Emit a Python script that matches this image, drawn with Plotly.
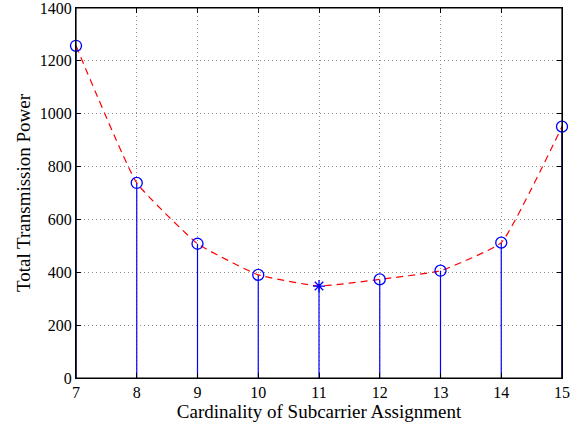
import plotly.graph_objects as go

x_vals = [7, 8, 9, 10, 11, 12, 13, 14, 15]
power = [1257, 738, 508, 390, 348, 373, 406, 512, 951]
y_ticks = [0, 200, 400, 600, 800, 1000, 1200, 1400]
min_index = 4

fig = go.Figure()

# stems
sx, sy = [], []
for xv, yv in zip(x_vals, power):
    sx += [xv, xv, None]
    sy += [0, yv, None]
fig.add_trace(go.Scatter(x=sx, y=sy, mode="lines", line=dict(color="#0000ff", width=1.2),
                         hoverinfo="skip", showlegend=False, cliponaxis=False))

# dashed curve
fig.add_trace(go.Scatter(x=x_vals, y=power, mode="lines",
                         line=dict(color="#ff0000", width=1.2, dash="7px,5px", shape="spline", smoothing=0.35),
                         showlegend=False, cliponaxis=False))

# circle markers
cx = [v for i, v in enumerate(x_vals) if i != min_index]
cy = [v for i, v in enumerate(power) if i != min_index]
fig.add_trace(go.Scatter(x=cx, y=cy, mode="markers",
                         marker=dict(symbol="circle-open", size=11, color="#0000ff", line=dict(width=1.3)),
                         showlegend=False, cliponaxis=False))
# minimum marker
fig.add_trace(go.Scatter(x=[x_vals[min_index]], y=[power[min_index]], mode="markers",
                         marker=dict(symbol="asterisk-open", size=10, color="#0000ff", line=dict(width=1.3, color="#0000ff")),
                         showlegend=False, cliponaxis=False))

font = dict(family="Liberation Serif, Times New Roman, serif", size=16, color="black")

axis_common = dict(
    showgrid=True, gridcolor="#8c8c8c", griddash="1px,3px", gridwidth=1,
    showline=True, linecolor="black", linewidth=1.2, mirror="allticks",
    ticks="inside", ticklen=5, tickcolor="black", zeroline=False,
    ticklabeloverflow="allow", automargin=False,
)

fig.update_layout(
    width=579, height=424,
    margin=dict(l=76, r=17, t=8, b=46, autoexpand=False),
    paper_bgcolor="white", plot_bgcolor="white",
    font=font,
    xaxis=dict(range=[7, 15], tickmode="array", tickvals=x_vals, ticktext=[str(v) for v in x_vals],
               title=dict(text="Cardinality of Subcarrier Assignment", font=dict(size=19), standoff=0),
               **axis_common),
    yaxis=dict(range=[0, 1400], tickmode="array", tickvals=y_ticks,
               title=dict(text="Total Transmission Power", font=dict(size=19), standoff=4),
               **axis_common),
)

# frame of the axes box
fig.add_shape(type="rect", xref="paper", yref="paper", x0=0, x1=1, y0=0, y1=1,
              line=dict(color="black", width=1.2), layer="above")

fig.write_html("out.html", config={"displayModeBar": False},
               post_script="document.body.style.margin='0';document.body.style.overflow='hidden';")
